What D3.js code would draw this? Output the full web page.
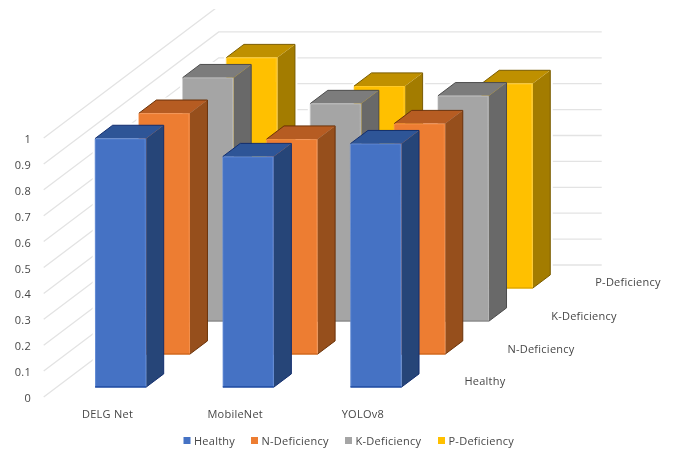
<!DOCTYPE html>
<html>
<head>
<meta charset="utf-8">
<script src="https://cdn.jsdelivr.net/npm/d3@7/dist/d3.min.js"></script>
<style>
  html, body { margin: 0; background: #fff; }
  text { font-family: "Open Sans", "Noto Sans", sans-serif; font-size: 11px; letter-spacing: 0.25px; fill: #474747; }
</style>
</head>
<body>
<svg id="chart" width="673" height="449"></svg>
<script>
const models = ["DELG Net", "MobileNet", "YOLOv8"];
const classes = ["Healthy", "N-Deficiency", "K-Deficiency", "P-Deficiency"];
const healthy = [0.96, 0.89, 0.94];
const nDeficiency = [0.93, 0.83, 0.89];
const kDeficiency = [0.94, 0.84, 0.87];
const pDeficiency = [0.89, 0.78, 0.79];
const seriesValues = [healthy, nDeficiency, kDeficiency, pDeficiency];
const valueTicks = [0, 0.1, 0.2, 0.3, 0.4, 0.5, 0.6, 0.7, 0.8, 0.9, 1];

const faceColors = [
  { front: "#4472c4", rim: "#6f95dc", top: "#2f5597", side: "#264478", base: "#1c48a0", edge: "#122e6e" },
  { front: "#ed7d31", rim: "#f79a5c", top: "#b65c22", side: "#964f1c", base: "#d2691f", edge: "#6b3208" },
  { front: "#a5a5a5", rim: "#c4c4c4", top: "#7c7c7c", side: "#696969", base: "#8c8c8c", edge: "#4c4c4c" },
  { front: "#ffc000", rim: "#ffd24d", top: "#bf9000", side: "#a37b00", base: "#e0a800", edge: "#7a5c00" }
];

const floorLeft = 43.7, floorRight = 426.7, floorFront = 397;
const depthX = 175, depthY = 132;

const x = d3.scaleBand().domain(models).range([floorLeft, floorRight]).paddingInner(0.6).paddingOuter(0.3);
const depth = d3.scaleBand().domain(classes).range([0, depthY]).paddingInner(0.6).paddingOuter(0.3);
const y = d3.scaleLinear().domain([0, 1]).range([0, 259]);
const shear = depthX / depthY;

// Oblique projection: (horizontal px, value, depth px) to screen coordinates.
const project = (sx, v, d) => [sx + d * shear, floorFront - y(v) - d];
const pathOf = pts => "M" + pts.map(p => p.join(",")).join("L") + "Z";

const svg = d3.select("#chart");
const defs = svg.append("defs");
const soft = (id, amount) => defs.append("filter").attr("id", id)
  .attr("x", "-5%").attr("y", "-5%").attr("width", "110%").attr("height", "110%")
  .append("feGaussianBlur").attr("stdDeviation", amount);
soft("soft", 0.45);
soft("softText", 0.4);
defs.append("clipPath").attr("id", "wallClip").append("rect")
  .attr("x", 0).attr("y", 9).attr("width", 673).attr("height", 440);

const root = svg.append("g").attr("filter", "url(#soft)");

// Gridlines on the side wall and the back wall.
const walls = root.append("g").attr("clip-path", "url(#wallClip)")
  .attr("fill", "none").attr("stroke", "#e3e3e3").attr("stroke-width", 1.3);
walls.selectAll("path").data(valueTicks).join("path").attr("d", v => {
  const a = project(floorLeft, v, 0), b = project(floorLeft, v, depthY),
        c = project(floorRight, v, depthY);
  return d3.line()([a, b, c]);
});

// Bars are painted from the back row forward so nearer bars overlap farther ones.
const bars = classes.map((cls, row) => ({ cls, row }))
  .reverse()
  .flatMap(({ cls, row }) => models.map((m, col) => ({ cls, row, m, v: seriesValues[row][col] })));

const corners = d => {
  const l = x(d.m), r = l + x.bandwidth();
  const n = depth(d.cls), f = n + depth.bandwidth();
  return { l, r, n, f };
};
const outline = d => {
  const { l, r, n, f } = corners(d);
  return pathOf([project(l, 0, n), project(r, 0, n), project(r, 0, f), project(r, d.v, f),
                 project(l, d.v, f), project(l, d.v, n)]);
};

// White clearance that stops the gridlines just short of each bar.
root.append("g").selectAll("path").data(bars).join("path")
  .attr("d", outline).attr("fill", "#fff").attr("stroke", "#fff").attr("stroke-width", 5);

const bar = root.append("g").selectAll("g").data(bars).join("g");
bar.append("path").attr("fill", d => faceColors[d.row].side).attr("d", d => {
  const { r, n, f } = corners(d);
  return pathOf([project(r, 0, n), project(r, 0, f), project(r, d.v, f), project(r, d.v, n)]);
});
bar.append("path").attr("fill", d => faceColors[d.row].top).attr("d", d => {
  const { l, r, n, f } = corners(d);
  return pathOf([project(l, d.v, n), project(r, d.v, n), project(r, d.v, f), project(l, d.v, f)]);
});
bar.append("path").attr("fill", d => faceColors[d.row].front).attr("d", d => {
  const { l, r, n } = corners(d);
  return pathOf([project(l, 0, n), project(r, 0, n), project(r, d.v, n), project(l, d.v, n)]);
});
// Pale highlight along the front face's upper and side edges.
bar.append("path").attr("fill", "none").attr("stroke", d => faceColors[d.row].rim)
  .attr("stroke-width", 1).attr("stroke-opacity", 0.55)
  .attr("d", d => {
    const { l, r, n } = corners(d);
    return d3.line()([project(l + 0.5, 0, n), project(l + 0.5, d.v, n - 0.5), project(r - 0.5, d.v, n - 0.5), project(r - 0.5, 0, n)]);
  });
// Saturated line under the front face.
bar.append("path").attr("fill", "none").attr("stroke", d => faceColors[d.row].base).attr("stroke-width", 1.5)
  .attr("d", d => {
    const { l, r, n } = corners(d);
    return d3.line()([project(l, 0, n), project(r, 0, n)]);
  });
// Dark rim along the bottom of the side and the far edges of the top.
bar.append("path").attr("fill", "none").attr("stroke", d => faceColors[d.row].edge).attr("stroke-width", 1)
  .attr("d", d => {
    const { l, r, n, f } = corners(d);
    return d3.line()([project(r, 0, n), project(r, 0, f)]) +
           d3.line()([project(l, d.v, n), project(l, d.v, f), project(r, d.v, f), project(r, 0, f)]);
  });

const labels = root.append("g").attr("filter", "url(#softText)");

// Value axis labels.
labels.append("g").selectAll("text").data(valueTicks).join("text")
  .attr("x", 31).attr("y", v => floorFront - y(v) + 5).attr("text-anchor", "end")
  .text(v => d3.format("~g")(v));

// Model labels under the front edge.
labels.append("g").selectAll("text").data(models).join("text")
  .attr("x", m => x(m) + x.bandwidth() / 2).attr("y", 418).attr("text-anchor", "middle")
  .text(m => m);

// Row labels stepping back along the right edge.
const rowLabelX = [485, 541, 584, 628];
const rowLabelY = [385, 352.5, 320, 286];
labels.append("g").selectAll("text").data(classes).join("text")
  .attr("x", (c, i) => rowLabelX[i]).attr("y", (c, i) => rowLabelY[i]).attr("text-anchor", "middle")
  .text(c => c);

// Legend.
const legendX = [183.5, 251, 345, 438];
const legend = root.append("g").selectAll("g").data(classes).join("g")
  .attr("transform", (c, i) => `translate(${legendX[i]},437)`);
legend.append("rect").attr("width", 7).attr("height", 7).attr("fill", (c, i) => faceColors[i].front);
legend.append("text").attr("x", 10.5).attr("y", 8).attr("filter", "url(#softText)").text(c => c);
</script>
</body>
</html>
